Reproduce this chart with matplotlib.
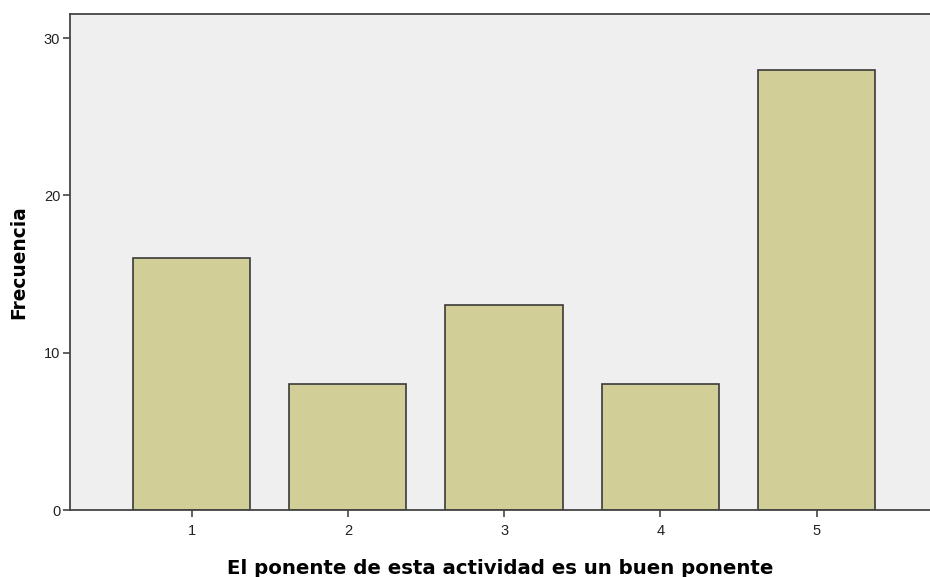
import matplotlib
matplotlib.use("Agg")
import matplotlib.pyplot as plt

categories = [1, 2, 3, 4, 5]
frequencies = [16, 8, 13, 8, 28]
y_ticks = [0, 10, 20, 30]
x_label = "El ponente de esta actividad es un buen ponente"
y_label = "Frecuencia"

plt.rcParams['font.family'] = ['Liberation Sans', 'DejaVu Sans']

fig = plt.figure(figsize=(9.3, 5.77), dpi=100)
ax = fig.add_axes([70/930, 1-510/577, 1-70/930, (510-14)/577])
ax.set_facecolor('#efefef')

ax.bar(categories, frequencies, width=0.75, color='#d2ce98', edgecolor='#3a3a3a', linewidth=1.2, zorder=2)

ax.set_xlim(0.222, 5.726)
ax.set_ylim(0, 31.53)
ax.set_xticks(categories)
ax.set_xticklabels([str(c) for c in categories])
ax.set_yticks(y_ticks)

for s in ['right']:
    ax.spines[s].set_visible(False)
for s in ['left', 'bottom', 'top']:
    ax.spines[s].set_color('#444444')
    ax.spines[s].set_linewidth(1.3)

ax.tick_params(axis='both', direction='out', length=5, width=1.2, color='#444444',
               labelsize=10.5, labelcolor='#222222')
ax.tick_params(axis='x', pad=5)
ax.tick_params(axis='y', pad=2)

ax.set_xlabel(x_label, fontsize=14.2, fontweight='bold', family='DejaVu Sans', labelpad=15)
ax.set_ylabel(y_label, fontsize=13.4, fontweight='bold', family='DejaVu Sans', labelpad=11)

fig.savefig("out.png", dpi=100)
